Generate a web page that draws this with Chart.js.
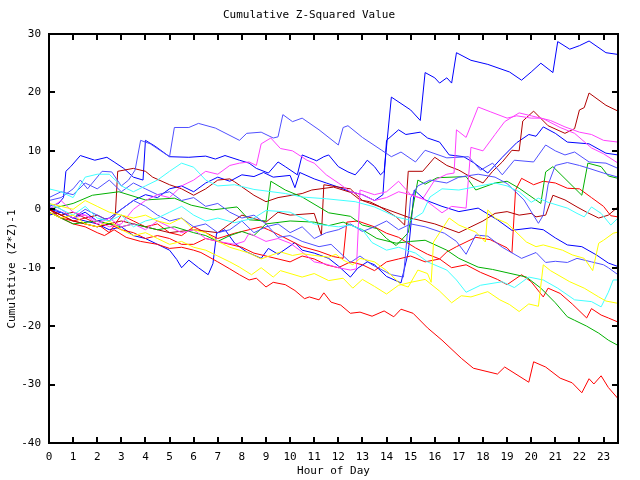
<!DOCTYPE html>
<html>
<head>
<meta charset="utf-8">
<script src="https://cdn.jsdelivr.net/npm/chart.js@4"></script>
<style>
  body { margin: 0; background: #fff; }
  canvas { display: block; }
</style>
</head>
<body>
<canvas id="chart" width="640" height="480"></canvas>
<script>
// Godziny na osi X i wartości osi Y
const hourTicks = [0,1,2,3,4,5,6,7,8,9,10,11,12,13,14,15,16,17,18,19,20,21,22,23];
const valueTicks = [-40,-30,-20,-10,0,10,20,30];

// Każda seria to lista par [godzina, wartość]
const blue1 = [[0,0.5],[0.4,1],[0.6,2],[0.7,6.5],[0.9,7.3],[1.3,9.2],[1.9,8.4],[2.4,8.9],[2.7,8.1],[3.1,7],[3.5,5.5],[3.9,5],[4.0,11.8],[4.4,10.8],[5.0,9.0],[5.8,8.9],[6.5,9.1],[6.9,8.6],[7.3,9.2],[7.9,8.4],[8.3,7.9],[8.6,7.0],[9.1,6.2],[9.5,8.1],[9.8,7.3],[10.3,5.9],[10.5,9.3],[10.8,8.8],[11.1,8.3],[11.4,9.0],[11.6,9.3],[12.0,7.3],[12.4,6.4],[12.7,5.9],[13.0,7.3],[13.2,8.4],[13.5,7.3],[13.75,5.9],[13.9,6.5],[14.2,19.2],[15.0,17],[15.4,15.2],[15.6,23.4],[16.0,22.5],[16.2,21.6],[16.5,22.5],[16.7,21.6],[16.9,26.8],[17.5,25.5],[18.2,24.8],[19.1,23.5],[19.6,22.1],[20.0,23.5],[20.4,25.0],[20.9,23.4],[21.1,28.7],[21.6,27.4],[22.0,28.0],[22.4,28.8],[23.1,26.8],[23.6,26.5]];
const blue2 = [[0,-1],[0.5,-0.5],[1,-1.5],[1.5,-0.5],[2,-2],[2.5,-1.5],[3,0],[3.5,1.5],[4,2.5],[4.5,2],[5,3.5],[5.5,4],[6,3],[6.5,4.5],[7,5.5],[7.5,4.8],[8,5.9],[8.5,5.6],[8.9,6.3],[9.3,5.5],[10,5.8],[10.2,3.7],[10.4,6.3],[11,5.2],[11.5,4.5],[12,3.8],[12.5,3],[13,2.5],[13.5,1.5],[13.85,2.5],[14.0,11.8],[14.5,13.6],[14.8,12.8],[15.4,13.2],[15.7,12.2],[16.2,11.5],[16.6,9.3],[17.2,9.0],[17.6,8],[18.2,6.2],[18.8,8.9],[19.4,11.4],[19.9,12.8],[20.2,12.5],[20.5,14.1],[21.0,13],[21.5,11.5],[22.4,11.2],[23.1,9.6],[23.6,9.3]];
const blue3 = [[0,0],[0.5,-0.5],[1,-1.5],[1.5,-2],[2,-2.5],[2.5,-3.5],[3,-3],[3.5,-4.5],[4,-5],[4.5,-6],[5,-7],[5.3,-8.6],[5.5,-10],[5.8,-8.7],[6.2,-10],[6.6,-11.2],[6.8,-9.3],[6.95,-4.1],[7.3,-3.5],[7.7,-5.8],[8.2,-7.3],[8.8,-8.4],[9.1,-6.7],[9.5,-7.7],[10.2,-5.7],[10.5,-7.0],[11.0,-7.5],[11.6,-8.4],[12.0,-9.7],[12.5,-11.6],[12.8,-10.1],[13.2,-9.0],[13.5,-9.5],[14.0,-11.5],[14.6,-12.6],[14.9,-7.4],[15.15,3.3],[15.6,1.6],[16.3,0.5],[17.0,-0.4],[17.8,0.2],[18.6,-1.8],[19.2,-3.6],[20.0,-3.2],[20.5,-3.5],[21.0,-4.9],[21.5,-6.1],[22.1,-6.4],[22.7,-7.8],[23.2,-9.2],[23.6,-9.8]];
const lightBlue1 = [[0,1.5],[0.5,2],[1,3.5],[1.3,5],[1.6,3.5],[2.2,6.5],[2.6,6.4],[3.0,4],[3.3,5],[3.57,6.7],[3.8,11.8],[4.2,11.2],[5.0,9.0],[5.2,14.0],[5.8,14.0],[6.2,14.7],[6.9,13.9],[7.9,11.8],[8.2,13.0],[8.8,13.2],[9.3,12.2],[9.5,12.4],[9.7,16.2],[10.1,15.0],[10.5,15.6],[11.2,13.6],[12.0,11.0],[12.2,14.0],[12.4,14.3],[13.0,12.3],[13.8,10.1],[14.2,9.0],[14.6,9.8],[15.2,8.1],[15.6,10.1],[16.5,8.8],[17.4,9.0],[17.9,6.7],[18.4,7.9],[18.8,5.9],[19.3,8.4],[20.1,8.1],[20.6,11.0],[21.0,10],[21.4,9.3],[21.8,9.8],[22.4,8.1],[23.1,7.9],[23.6,7.0]];
const lightBlue2 = [[0,0.5],[0.5,-0.5],[1,-1.5],[1.5,0],[2,-1],[2.5,-2],[3,0],[3.5,1.5],[4,0.5],[4.5,-1],[5,-2],[5.5,-1.5],[6,-3],[6.5,-2.5],[7,-4],[7.5,-3.5],[8,-2],[8.5,-4],[9,-3],[9.5,-2.5],[10,-4],[10.5,-3],[11,-5],[11.5,-4],[12,-3.5],[12.5,-2.5],[13,-3.8],[13.5,-3],[14,-2],[14.5,-3.5],[15,-2.5],[15.6,-3.0],[16.4,-4.1],[16.9,-5.5],[17.3,-7.7],[17.7,-4.4],[18.2,-4.6],[18.8,-6.5],[19.6,-8.4],[20.2,-7.4],[20.6,-9.1],[21.0,-8.9],[21.5,-9.1],[21.9,-8.4],[22.5,-9.0],[23.0,-9.5],[23.2,-10.0],[23.6,-11.2]];
const lightBlue3 = [[0,2],[0.5,3],[1,2.5],[1.5,4.5],[2,3.5],[2.5,5],[3,3],[3.5,4.5],[4,3.5],[4.5,2.5],[5,3],[5.5,1.5],[6,2],[6.5,0.5],[7,1],[7.5,-0.5],[8,-1.5],[8.5,-1],[9,-2.5],[9.5,-4.8],[10,-4.5],[10.5,-5.5],[11.2,-6.4],[11.7,-6],[12.5,-9.1],[12.9,-8],[13.4,-9.5],[14.2,-11.2],[14.7,-11.6],[15.0,2.0],[15.3,4.0],[15.8,5.0],[16.5,4.5],[17.0,5.5],[17.8,6.0],[18.5,5.5],[19.0,4.4],[19.7,1.6],[20.3,-2.4],[20.5,-1],[20.7,4.2],[21.0,7.5],[21.5,8.0],[22.0,7.5],[22.4,7.0],[23.0,6.2],[23.6,5.5]];
const red1 = [[0,0],[0.5,-1],[1,-2],[1.5,-1.5],[2,-2.5],[2.5,-4],[3,-1],[3.5,-2],[4,-3],[4.5,-2.5],[5,-4],[5.5,-4.5],[6,-3],[6.5,-4],[7,-5],[7.7,-4.1],[8.3,-3.5],[8.8,-3.0],[9.1,-3.5],[9.6,-4.5],[10.5,-6.4],[11.2,-7.2],[11.8,-8.1],[12.2,-8.4],[12.35,-2.2],[12.8,-2.0],[13.5,-3],[14,-4.1],[14.5,-4.8],[15.2,-6.6],[15.7,-7.7],[16.2,-8.5],[16.5,-7.3],[16.9,-6.4],[17.7,-4.8],[18.3,-5.2],[19.0,-6.6],[19.2,-7.5],[19.35,3.3],[19.6,5.3],[20.1,4.2],[20.5,4.8],[21.0,4.5],[21.5,3.6],[22.0,3.5],[22.5,2],[23.0,0.5],[23.3,-1.1],[23.6,-1.3]];
const red2 = [[0,0],[0.5,-1.5],[1,-2],[1.5,-2.5],[2,-3],[2.5,-2.5],[3,-3.5],[3.5,-4],[4,-5],[4.5,-4.5],[5,-5],[5.5,-6],[6,-6],[6.5,-5],[7,-5.5],[7.5,-6],[8,-6.5],[8.5,-7.5],[9,-8],[9.5,-8.5],[10,-9],[10.5,-8],[11,-8.5],[11.5,-9.5],[12,-10],[12.5,-9],[13,-9.5],[13.5,-10.5],[14,-9],[14.5,-8.5],[15,-8],[15.6,-9],[16.2,-8.5],[16.7,-10],[17.3,-9.5],[17.9,-10.8],[18.6,-12],[19.0,-12.9],[19.6,-11.2],[20.0,-12.4],[20.5,-15],[20.7,-13.5],[21.2,-14.4],[21.7,-16.2],[22.3,-18.6],[22.5,-17],[22.9,-18.1],[23.2,-18.6],[23.6,-19.3]];
const red3 = [[0,-0.5],[0.5,-1.5],[1,-2.5],[1.5,-3],[2,-4],[2.3,-4.5],[2.7,-3.5],[3.2,-4.8],[3.8,-5.5],[4.5,-6],[5,-6.7],[5.5,-6.5],[6,-7],[6.3,-7.4],[7,-9],[7.5,-10.2],[7.9,-11.2],[8.3,-12.1],[8.6,-11.8],[9,-13.3],[9.3,-12.5],[9.8,-12.9],[10.2,-13.9],[10.6,-15.3],[10.8,-15],[11.2,-15.5],[11.4,-14.3],[11.7,-15.9],[12.1,-16.4],[12.5,-17.8],[12.9,-17.6],[13.4,-18.3],[13.9,-17.4],[14.3,-18.4],[14.6,-17.1],[15.1,-17.8],[15.7,-20.3],[16.3,-22.4],[17.1,-25.5],[17.6,-27.2],[18.6,-28.2],[18.9,-27],[19.9,-29.6],[20.1,-26.1],[20.6,-27],[21.2,-28.9],[21.7,-29.7],[22.1,-31.4],[22.4,-29],[22.6,-29.9],[22.9,-28.5],[23.2,-30.5],[23.6,-32.4]];
const darkRed1 = [[0,0],[0.5,-1],[1,-0.5],[1.5,-1.5],[2,-1],[2.5,-2],[2.75,-1],[2.85,6.5],[3.5,7],[4,6.5],[4.3,5.5],[5,4.2],[5.5,3.5],[6,2.4],[6.5,3.5],[7,5],[7.5,5.2],[7.7,4.7],[8.5,2.4],[9,1.3],[9.5,2.0],[10.5,2.7],[10.9,3.3],[11.8,3.8],[12.5,2.9],[12.9,1.6],[13.3,1.3],[13.7,0.5],[14.4,-1.3],[14.75,-2.7],[14.9,6.5],[15.5,6.5],[16.0,8.9],[16.5,7.5],[17.0,6.7],[17.5,5.5],[18.0,4.5],[18.4,6.5],[18.8,8.1],[19.2,10.1],[19.5,10.0],[19.65,15.1],[20.1,16.8],[20.7,14.3],[21.4,13],[21.8,13.8],[22.0,17],[22.2,17.4],[22.4,19.9],[23.1,17.8],[23.6,16.8]];
const darkRed2 = [[0,0],[1,-2],[2,-3],[3,-2],[4,-3],[5,-4],[6,-3.5],[7,-4],[8,-1],[9,-2.2],[9.5,-0.5],[10,-1],[11,-0.7],[11.3,-4.4],[11.4,4.2],[12,3.8],[12.5,3.5],[13,1.5],[14,0],[15,-1.5],[16,-2.5],[17,-4],[17.5,-3],[18,-2],[18.5,-0.7],[19,-0.4],[19.5,-1],[20,-0.7],[20.2,-1.3],[20.6,-1],[20.9,2.4],[21.4,1.6],[21.9,0.4],[22.3,-0.5],[22.8,-1.5],[23.2,-1],[23.6,0.4]];
const green1 = [[0,0],[0.5,0.5],[1,1],[1.8,2.4],[2.9,3],[4,1.6],[5.2,1.9],[5.9,0.7],[6.8,-0.1],[7.8,0.4],[8.3,-1.8],[9.0,-2],[9.2,4.8],[9.8,3.3],[10.5,2.1],[11.6,-0.6],[12.5,-1.2],[13,-2.7],[13.6,-3.3],[14,-5],[14.4,-6.2],[14.9,-4],[15.3,5.0],[15.6,4.3],[16.1,5.4],[17.3,5.6],[17.7,3.3],[18.5,4.5],[19,4.8],[19.5,3.6],[20.4,1.0],[20.6,6.4],[20.9,7.3],[22.1,2.4],[22.35,7.9],[22.9,7.3],[23.2,5.7],[23.6,5.3]];
const green2 = [[0,-0.5],[0.5,-1.5],[1,-2.5],[2,-2],[3,-3],[3.5,-2.5],[4.5,-3.5],[5.2,-3],[6,-4],[6.5,-4.5],[7,-5.5],[7.5,-4.5],[8,-3.8],[8.5,-4.5],[9,-2.5],[10,-2],[11,-2.2],[11.6,-2.8],[12.2,-2.2],[13,-3.5],[13.6,-5],[14.4,-5.8],[15,-5.5],[15.6,-5.3],[16.5,-7],[17.0,-8.4],[17.8,-9.9],[18.4,-10.3],[19.8,-11.6],[20.4,-13.5],[21,-16],[21.5,-18.4],[21.8,-19],[22.3,-20],[22.8,-21.2],[23.2,-22.4],[23.6,-23.3]];
const magenta1 = [[0,0],[0.5,1.5],[1,-0.5],[1.5,-1],[2,-2],[2.5,-3],[3,-2.5],[3.5,0],[4,1.5],[4.5,2.5],[5,2],[5.5,4],[6,5],[6.5,6.5],[7,6],[7.5,7.5],[7.9,7.9],[8.3,8.1],[8.6,7.5],[8.8,11.2],[9.2,12.2],[9.6,10.4],[10.1,10],[10.7,8.4],[11,7.9],[11.5,5.9],[12,4.5],[12.5,3],[13,2.5],[13.5,1.5],[14,2],[14.5,3],[15,2.5],[15.5,1.8],[16,5],[16.5,6],[16.8,6.2],[16.9,13.6],[17.3,12.3],[17.8,17.5],[18.3,16.7],[19,15.6],[19.4,16],[20,15.6],[20.4,15.6],[20.8,15.2],[21.4,14.1],[22,13.2],[22.5,12.8],[23,11.8],[23.6,11.5]];
const magenta2 = [[0,1],[0.5,0],[1,-1.5],[1.5,-1],[2,-2.5],[2.5,-1.5],[3,-3],[3.5,-2.5],[4,-3.5],[4.5,-2],[5,-3],[5.5,-4],[6,-3.5],[6.5,-5],[7,-5.5],[7.7,-6],[8.1,-5.5],[8.3,-4.1],[8.5,-4.5],[9,-5.5],[9.5,-5],[10,-5.8],[10.4,-7],[11,-9],[11.5,-9.4],[12.0,-10.0],[12.5,-10.4],[12.75,-10.2],[12.9,3.3],[13.5,2.5],[14.0,3.0],[14.5,4.8],[15.0,2.5],[15.6,1.6],[16.3,-0.6],[16.7,0.5],[17.3,0.2],[17.5,10.6],[18.0,10.0],[18.5,12.8],[18.9,15.0],[19.5,16.5],[20.0,16.0],[20.5,15.5],[21.2,14.0],[21.8,13.0],[22.5,10.5],[23.0,9.5],[23.6,7.9]];
const cyan1 = [[0,3.5],[0.5,3],[1,2],[1.5,5.5],[2,6],[2.5,6],[3,4],[3.5,3],[4,4],[4.5,5],[5,6.5],[5.5,7.9],[6,7.2],[6.5,5],[7,4],[7.7,4.2],[8.5,3.4],[9.8,2.7],[10.5,2.1],[11.5,1.8],[12.7,1.3],[13.5,0.4],[14.4,-1.3],[15,-1.9],[15.5,-0.6],[15.8,2.1],[16.3,3.5],[17,3.3],[18.5,4.5],[19,4],[19.5,3],[20,1.2],[20.3,1.9],[20.7,1.2],[21.5,0.2],[21.9,-0.7],[22.2,-1.3],[22.5,0.4],[22.9,-0.7],[23.3,-2.7],[23.6,-1.5]];
const cyan2 = [[0,1],[0.5,0],[1,-1],[1.5,0.5],[2,-1.5],[2.5,-2],[3,-1],[3.5,-3],[4,-2],[4.5,-1.5],[5,-0.5],[5.5,0.5],[6,-1],[6.5,-2],[7,-1.5],[7.7,-2.3],[8.5,-1.5],[9,-0.2],[10,-0.5],[10.5,-1.5],[11,-2.5],[12,-3],[12.5,-2.7],[13,-3.5],[13.4,-5.7],[14,-7],[14.5,-6.5],[15.2,-7.5],[15.7,-9],[16.5,-10.4],[16.9,-12.1],[17.3,-14.2],[17.9,-13],[18.8,-12.4],[19.3,-13.4],[19.9,-11.6],[20.5,-12.1],[21.1,-13.5],[21.8,-15.5],[22.5,-15.8],[22.9,-16.7],[23.2,-14.2],[23.4,-12.1],[23.6,-12.1]];
const yellow1 = [[0,1],[0.5,0.5],[1,0],[1.5,1.5],[2,0.5],[2.5,-0.5],[3,-1],[3.5,-1.5],[4,-1],[4.5,-2],[5,-2.5],[5.5,-1.5],[6,-3.5],[6.5,-4],[7,-5.5],[7.5,-6.5],[7.9,-7.0],[8.3,-7.5],[8.8,-8.5],[9.2,-7.9],[9.6,-7.3],[10.1,-7.9],[10.5,-7.6],[11,-7.9],[11.6,-8.2],[11.9,-7.7],[12.2,-8.7],[12.6,-9.5],[12.9,-8.4],[13.5,-9.0],[14.0,-10.5],[14.6,-12.9],[14.9,-13.3],[15.3,-10.4],[15.7,-11],[15.85,-12.5],[15.95,-5.6],[16.6,-1.5],[17.0,-2.7],[17.7,-3.9],[18.1,-5.6],[18.2,-0.1],[18.5,-1.5],[19.0,-2.4],[19.8,-5.6],[20.2,-6.4],[20.5,-6.1],[21.3,-7.0],[21.7,-7.8],[22.2,-8.4],[22.55,-10.5],[22.8,-5.8],[23.0,-5.3],[23.4,-4.1],[23.6,-3.9]];
const yellow2 = [[0,-0.5],[0.5,-1.5],[1,-1],[1.5,-2.5],[2,-3],[2.5,-2],[3,-3.5],[3.5,-4.5],[4,-4],[4.5,-5],[5,-6],[5.5,-5.5],[6,-6.5],[6.5,-7],[7,-8],[7.5,-9],[7.9,-9.9],[8.4,-11.2],[8.8,-10],[9.3,-11.6],[9.6,-10.5],[10.5,-11.6],[11,-11],[11.6,-12.2],[12.2,-11.8],[12.6,-13.5],[13.0,-12],[13.5,-13.2],[14.0,-14.5],[14.5,-13],[15.0,-12.5],[15.6,-12],[16.2,-14.0],[16.7,-16.0],[17.1,-14.8],[17.5,-15],[18.2,-14.1],[18.7,-15.5],[19.1,-16.3],[19.5,-17.5],[19.9,-16.2],[20.3,-16.6],[20.5,-9.5],[20.8,-10.5],[21.6,-12.4],[22.2,-13.5],[22.8,-15.0],[23.1,-15.7],[23.6,-16.1]];

// serie i kolory rysowania
const series = [
	{ data: yellow2, color: '#ffff00' },
	{ data: yellow1, color: '#ffff00' },
	{ data: cyan2, color: '#40ffff' },
	{ data: cyan1, color: '#40ffff' },
	{ data: magenta2, color: '#ff40ff' },
	{ data: magenta1, color: '#ff40ff' },
	{ data: lightBlue2, color: '#5050ff' },
	{ data: lightBlue3, color: '#5050ff' },
	{ data: lightBlue1, color: '#5050ff' },
	{ data: green2, color: '#00b000' },
	{ data: green1, color: '#00b000' },
	{ data: darkRed2, color: '#b00000' },
	{ data: darkRed1, color: '#b00000' },
	{ data: red3, color: '#ff0000' },
	{ data: red2, color: '#ff0000' },
	{ data: red1, color: '#ff0000' },
	{ data: blue3, color: '#0000ff' },
	{ data: blue2, color: '#0000ff' },
	{ data: blue1, color: '#0000ff' },
];

const FONT = "'DejaVu Sans Mono', 'Liberation Mono', monospace";

// Ramka z krótkimi znacznikami skierowanymi do środka + opis osi Y
const framePlugin = {
	id: 'frame',
	afterDraw(chart) {
		const { ctx, chartArea: a, scales } = chart;
		const x = scales.x;
		const y = scales.y;
		ctx.save();
		ctx.strokeStyle = '#000';
		ctx.lineWidth = 2;
		ctx.beginPath();
		hourTicks.forEach((h) => {
			const px = Math.round(x.getPixelForValue(h));
			ctx.moveTo(px, a.bottom);
			ctx.lineTo(px, a.bottom - 6);
			ctx.moveTo(px, a.top);
			ctx.lineTo(px, a.top + 6);
		});
		valueTicks.forEach((v) => {
			const py = Math.round(y.getPixelForValue(v));
			ctx.moveTo(a.left, py);
			ctx.lineTo(a.left + 6, py);
			ctx.moveTo(a.right, py);
			ctx.lineTo(a.right - 6, py);
		});
		ctx.stroke();
		ctx.strokeRect(a.left, a.top, a.right - a.left, a.bottom - a.top);

		ctx.fillStyle = '#000';
		ctx.font = '11px ' + FONT;
		ctx.textAlign = 'center';
		ctx.textBaseline = 'middle';
		ctx.translate(12, 269);
		ctx.rotate(-Math.PI / 2);
		ctx.fillText('Cumulative (Z*Z)-1', 0, 0);
		ctx.restore();
	},
};

Chart.defaults.color = '#000';
Chart.defaults.font.family = FONT;
Chart.defaults.font.size = 11;

new Chart(document.getElementById('chart'), {
	type: 'line',
	data: {
		datasets: series.map((s) => ({
			data: s.data.map(([h, v]) => ({ x: h, y: v })),
			borderColor: s.color,
			borderWidth: 1,
			pointRadius: 0,
			tension: 0,
			fill: false,
		})),
	},
	options: {
		responsive: false,
		animation: false,
		layout: { padding: { left: 0, right: 22, top: 0, bottom: 0 } },
		plugins: {
			legend: { display: false },
			tooltip: { enabled: false },
			title: {
				display: true,
				text: 'Cumulative Z-Squared Value',
				font: { size: 11, weight: 'normal', family: FONT },
				padding: { top: 9, bottom: 11.8 },
			},
		},
		scales: {
			x: {
				type: 'linear',
				min: 0,
				max: 23.6,
				afterFit: (scale) => { scale.height = 37; },
				grid: { display: false, drawTicks: false },
				border: { display: false },
				ticks: {
					stepSize: 1,
					includeBounds: false,
					padding: 8,
					maxRotation: 0,
					autoSkip: false,
				},
				title: {
					display: true,
					text: 'Hour of Day',
					font: { size: 11, family: FONT },
					padding: { top: 0, bottom: 2 },
				},
			},
			y: {
				min: -40,
				max: 30,
				afterFit: (scale) => { scale.width = 49; },
				grid: { display: false, drawTicks: false },
				border: { display: false },
				ticks: { stepSize: 10, padding: 8 },
			},
		},
	},
	plugins: [framePlugin],
});
</script>
</body>
</html>
